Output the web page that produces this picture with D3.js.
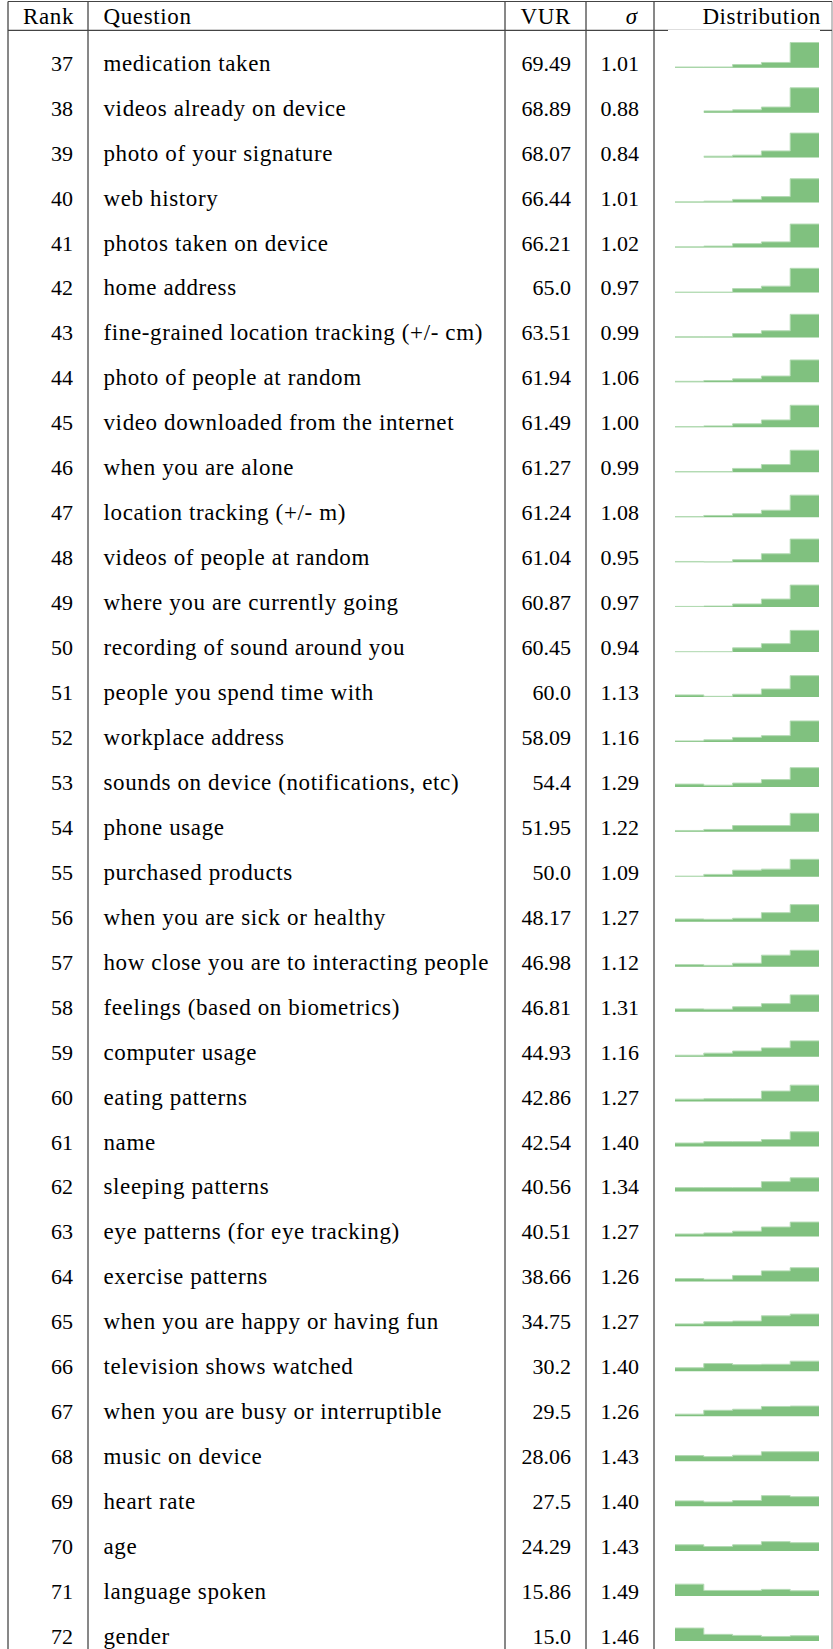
<!DOCTYPE html>
<html>
<head>
<meta charset="utf-8">
<script src="https://cdn.jsdelivr.net/npm/d3@7/dist/d3.min.js"></script>
<style>
  body { margin: 0; background: #fff; }
  svg text { font-family: "Liberation Serif", "Times New Roman", serif; font-size: 23px; fill: #000; }
  svg text.word { letter-spacing: 0.62px; }
  svg text.num { font-size: 22px; }
</style>
</head>
<body>
<div id="chart"></div>
<script>
// ---- data ----
var ranks = [37, 38, 39, 40, 41, 42, 43, 44, 45, 46, 47, 48, 49, 50, 51, 52, 53, 54,
             55, 56, 57, 58, 59, 60, 61, 62, 63, 64, 65, 66, 67, 68, 69, 70, 71, 72];

var questions = [
  "medication taken", "videos already on device", "photo of your signature", "web history",
  "photos taken on device", "home address", "fine-grained location tracking (+/- cm)",
  "photo of people at random", "video downloaded from the internet", "when you are alone",
  "location tracking (+/- m)", "videos of people at random", "where you are currently going",
  "recording of sound around you", "people you spend time with", "workplace address",
  "sounds on device (notifications, etc)", "phone usage", "purchased products",
  "when you are sick or healthy", "how close you are to interacting people",
  "feelings (based on biometrics)", "computer usage", "eating patterns", "name",
  "sleeping patterns", "eye patterns (for eye tracking)", "exercise patterns",
  "when you are happy or having fun", "television shows watched",
  "when you are busy or interruptible", "music on device", "heart rate", "age",
  "language spoken", "gender"
];

var vur = [69.49, 68.89, 68.07, 66.44, 66.21, 65.0, 63.51, 61.94, 61.49, 61.27, 61.24, 61.04,
           60.87, 60.45, 60.0, 58.09, 54.4, 51.95, 50.0, 48.17, 46.98, 46.81, 44.93, 42.86,
           42.54, 40.56, 40.51, 38.66, 34.75, 30.2, 29.5, 28.06, 27.5, 24.29, 15.86, 15.0];

var sigma = [1.01, 0.88, 0.84, 1.01, 1.02, 0.97, 0.99, 1.06, 1.00, 0.99, 1.08, 0.95,
             0.97, 0.94, 1.13, 1.16, 1.29, 1.22, 1.09, 1.27, 1.12, 1.31, 1.16, 1.27,
             1.40, 1.34, 1.27, 1.26, 1.27, 1.40, 1.26, 1.43, 1.40, 1.43, 1.49, 1.46];

// answer share (%) for the five answer options
var bins = [1, 2, 3, 4, 5];
var dist = [
  [2, 2, 9, 15, 72], [0, 5, 8, 16, 71], [0, 4, 7, 19, 70], [2, 4, 9, 17, 68],
  [2, 4, 11, 16, 67], [1, 1, 11, 18, 69], [2, 2, 11, 19, 66], [3, 5, 10, 18, 64],
  [2, 4, 10, 21, 63], [2, 2, 11, 22, 63], [2, 5, 10, 20, 63], [2, 1, 7, 24, 66],
  [2, 3, 9, 23, 63], [1, 1, 12, 24, 62], [6, 2, 8, 23, 61], [3, 6, 13, 18, 60],
  [8, 5, 11, 21, 55], [4, 7, 18, 18, 53], [2, 7, 19, 22, 50], [8, 7, 10, 26, 49],
  [6, 4, 10, 33, 47], [8, 7, 14, 23, 48], [4, 10, 16, 25, 45], [7, 8, 8, 30, 47],
  [10, 14, 14, 20, 42], [11, 11, 11, 28, 39], [7, 10, 15, 27, 41], [8, 6, 17, 30, 39],
  [7, 13, 15, 30, 35], [10, 22, 19, 20, 29], [6, 17, 20, 28, 29], [16, 13, 17, 27, 27],
  [15, 12, 16, 30, 27], [18, 13, 18, 27, 24], [34, 16, 16, 19, 15], [37, 19, 16, 13, 15]
];

// ---- layout ----
var width = 833, height = 1649;
var colX = [8, 88, 505, 586, 654, 832];   // vertical rules
var headerTop = 1.5, headerBottom = 30.3;
var sparkX = 675, sparkW = 144, sparkH = 35;

var svg = d3.select("#chart").append("svg")
    .attr("width", width)
    .attr("height", height);

// row baseline for each rank
var yRow = d3.scalePoint()
    .domain(ranks)
    .range([67.7, 1641]);

var fmtVur = function(v) { return Number.isInteger(v) ? v.toFixed(1) : String(v); };
var fmtSig = d3.format(".2f");

// ---- rules ----
var rules = svg.append("g").attr("class", "rules");
rules.selectAll("line.v")
    .data(colX)
    .enter().append("line")
    .attr("class", "v")
    .attr("x1", function(d) { return d; })
    .attr("x2", function(d) { return d; })
    .attr("y1", headerTop)
    .attr("y2", height)
    .style("stroke", function(d, i) { return i == colX.length - 1 ? "#888" : "#111"; })
    .style("stroke-width", 1);

rules.selectAll("line.h")
    .data([headerTop, headerBottom])
    .enter().append("line")
    .attr("class", "h")
    .attr("x1", colX[0])
    .attr("x2", colX[colX.length - 1])
    .attr("y1", function(d) { return d; })
    .attr("y2", function(d) { return d; })
    .style("stroke", "#444")
    .style("stroke-width", 1.2);

// ---- header ----
var header = svg.append("g").attr("class", "header");
var headY = 23.5;
header.append("text").attr("class", "word").attr("x", 74).attr("y", headY).attr("text-anchor", "end").text("Rank");
header.append("text").attr("class", "word").attr("x", 103.5).attr("y", headY).text("Question");
header.append("text").attr("class", "word").attr("x", 571).attr("y", headY).attr("text-anchor", "end").text("VUR");
header.append("text").attr("x", 637).attr("y", headY).attr("text-anchor", "end")
    .style("font-style", "italic").text("σ");
header.append("text").attr("class", "word").attr("x", 821).attr("y", headY).attr("text-anchor", "end").text("Distribution");

// ---- rows ----
var rows = svg.selectAll("g.row")
    .data(ranks)
    .enter().append("g")
    .attr("class", "row");

rows.append("text")
    .attr("class", "num")
    .attr("x", 73)
    .attr("y", function(d) { return yRow(d) + 3; })
    .attr("text-anchor", "end")
    .text(function(d) { return d; });

rows.append("text")
    .attr("class", "word")
    .attr("x", 103.5)
    .attr("y", function(d) { return yRow(d) + 3; })
    .text(function(d, i) { return questions[i]; });

rows.append("text")
    .attr("class", "num")
    .attr("x", 571)
    .attr("y", function(d) { return yRow(d) + 3; })
    .attr("text-anchor", "end")
    .text(function(d, i) { return fmtVur(vur[i]); });

rows.append("text")
    .attr("class", "num")
    .attr("x", 639)
    .attr("y", function(d) { return yRow(d) + 3; })
    .attr("text-anchor", "end")
    .text(function(d, i) { return fmtSig(sigma[i]); });

// ---- distribution sparklines ----
var xBin = d3.scaleLinear().domain([0, bins.length]).range([0, sparkW]);
var yBin = d3.scaleLinear().domain([0, 100]).range([0, -sparkH]);

var area = d3.area()
    .x(function(d) { return xBin(d.i); })
    .y0(0)
    .y1(function(d) { return yBin(d.v); })
    .curve(d3.curveStepAfter);

var edge = d3.line()
    .defined(function(d) { return d.v > 0; })
    .x(function(d) { return xBin(d.i); })
    .y(function(d) { return yBin(d.v); })
    .curve(d3.curveStepAfter);

function binPoints(i) {
  var pts = bins.map(function(b, j) { return {i: j, v: dist[i][j]}; });
  pts.push({i: bins.length, v: dist[i][bins.length - 1]});
  return pts;
}

var spark = rows.append("g")
    .attr("transform", function(d) { return "translate(" + sparkX + "," + yRow(d) + ")"; });

// white image background (it hides the header rule above the first one)
spark.append("rect")
    .attr("x", -7)
    .attr("y", -38)
    .attr("width", sparkW + 8)
    .attr("height", 40)
    .style("fill", "#fff");

spark.append("path")
    .attr("d", function(d, i) { return area(binPoints(i)); })
    .style("fill", "#80c17f");

spark.append("path")
    .attr("d", function(d, i) { return edge(binPoints(i)); })
    .style("fill", "none")
    .style("stroke", "#b3dab3")
    .style("stroke-width", 1);
</script>
</body>
</html>
